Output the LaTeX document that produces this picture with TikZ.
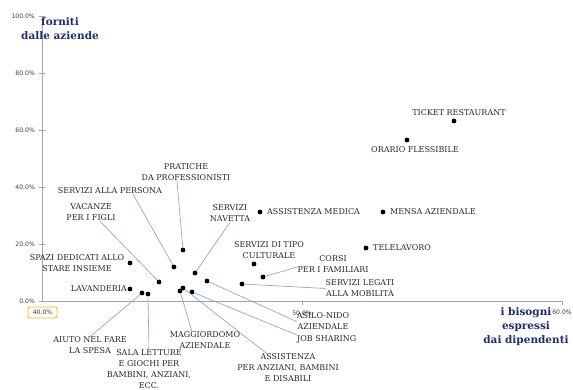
\documentclass[tikz,border=0pt]{standalone}
\usepackage{fontspec}
\newfontfamily\lblfont{DejaVu Serif}
\newfontfamily\tckfont{DejaVu Sans}
\definecolor{navy}{RGB}{31,45,105}
\definecolor{leadblue}{RGB}{125,160,205}
\definecolor{axisgray}{RGB}{165,165,165}
\definecolor{boxgold}{RGB}{245,185,20}

\begin{document}
\begin{tikzpicture}[x=1pt,y=-1pt,
  dot/.style={circle, fill=black, inner sep=0pt, minimum size=4.8pt},
  lbl/.style={font=\lblfont\fontsize{8}{11}\selectfont, text=black!85, align=center, inner sep=0pt},
  ttl/.style={font=\lblfont\bfseries\fontsize{10.5}{14}\selectfont, text=navy, align=center, inner sep=0pt},
  tck/.style={font=\tckfont\fontsize{6.1}{7}\selectfont, text=black!75, inner sep=0pt},
  lead/.style={draw=leadblue, line width=0.6pt}]
\useasboundingbox (0,0) rectangle (573,390);

% axes
\draw[axisgray, line width=0.7pt] (42,16) -- (42,301) -- (563,301);
\foreach \y in {16,73,130,187,244,301} \draw[axisgray, line width=0.6pt] (39,\y) -- (45,\y);
\foreach \x in {302,562} \draw[axisgray, line width=0.6pt] (\x,301) -- (\x,305);

\node (t100) at (35,16) [tck, anchor=east] {100.0\%};
\node (t80) at (35,73) [tck, anchor=east] {80.0\%};
\node (t60) at (35,130) [tck, anchor=east] {60.0\%};
\node (t40) at (35,187) [tck, anchor=east] {40.0\%};
\node (t20) at (35,244) [tck, anchor=east] {20.0\%};
\node (t0) at (35,301) [tck, anchor=east] {0.0\%};
\node (x40) at (42.5,312.5) [tck, draw=boxgold, line width=0.9pt, rounded corners=2pt, minimum width=29pt, minimum height=11pt] {40.0\%};
\node (x50) at (302,313) [tck] {50.0\%};
\node (x60) at (562,312) [tck] {60.0\%};

\node (fornite) at (60,29) [ttl] {forniti\\dalle aziende};
\node (bisogni) at (526,327) [ttl] {i bisogni\\espressi\\dai dipendenti};

% dots
\node (ticket) at (454,121) [dot] {};
\node (orario) at (407,140) [dot] {};
\node (medica) at (260,212) [dot] {};
\node (mensa) at (383,212) [dot] {};
\node (tele) at (366,248) [dot] {};
\node (cult) at (254,264) [dot] {};
\node (corsi) at (263,277) [dot] {};
\node (mob) at (242,284) [dot] {};
\node (prat) at (183,250) [dot] {};
\node (pers) at (174,267) [dot] {};
\node (navetta) at (195,273) [dot] {};
\node (asilo) at (207,281) [dot] {};
\node (vac) at (159,282) [dot] {};
\node (spazi) at (130,263) [dot] {};
\node (lav) at (130,289) [dot] {};
\node (aiuto) at (142,293) [dot] {};
\node (sala) at (148,294) [dot] {};
\node (magg) at (180,291) [dot] {};
\node (assist) at (183,288) [dot] {};
\node (job) at (192,292) [dot] {};

% labels
\node (ticketL) at (459,113) [lbl] {TICKET RESTAURANT};
\node (orarioL) at (415,150) [lbl] {ORARIO FLESSIBILE};
\node (medicaL) at (267,212) [lbl, anchor=west] {ASSISTENZA MEDICA};
\node (mensaL) at (390,212) [lbl, anchor=west] {MENSA AZIENDALE};
\node (teleL) at (373,248) [lbl, anchor=west] {TELELAVORO};
\node (cultL) at (269,250) [lbl] {SERVIZI DI TIPO\\CULTURALE};
\node (corsiL) at (333,264) [lbl] {CORSI\\PER I FAMILIARI};
\node (mobL) at (360,288.5) [lbl] {SERVIZI LEGATI\\ALLA MOBILIT\`A};
\node (pratL) at (186,172.5) [lbl] {PRATICHE\\DA PROFESSIONISTI};
\node (persL) at (110,191) [lbl] {SERVIZI ALLA PERSONA};
\node (navettaL) at (230,213.5) [lbl] {SERVIZI\\NAVETTA};
\node (vacL) at (91,212.5) [lbl] {VACANZE\\PER I FIGLI};
\node (spaziL) at (77,263) [lbl] {SPAZI DEDICATI ALLO\\STARE INSIEME};
\node (lavL) at (127,289) [lbl, anchor=east] {LAVANDERIA};
\node (aiutoL) at (90,345.5) [lbl] {AIUTO NEL FARE\\LA SPESA};
\node (salaL) at (149,369.5) [lbl] {SALA LETTURE\\E GIOCHI PER\\BAMBINI, ANZIANI,\\ECC.};
\node (maggL) at (205,340.5) [lbl] {MAGGIORDOMO\\AZIENDALE};
\node (assistL) at (288,368) [lbl] {ASSISTENZA\\PER ANZIANI, BAMBINI\\E DISABILI};
\node (jobL) at (297,339) [lbl, anchor=west] {JOB SHARING};
\node (asiloL) at (323,321.5) [lbl] {ASILO-NIDO\\AZIENDALE};

% leader lines
\draw[lead] (prat) -- ([xshift=-9pt]pratL.south);
\draw[lead] (pers) -- ([xshift=23pt]persL.south);
\draw[lead] (vac) -- ([xshift=9pt]vacL.south);
\draw[lead] (navetta) -- (navettaL.south);
\draw[lead] (aiuto) -- (aiutoL.north);
\draw[lead] (sala) -- (salaL.north);
\draw[lead] (magg) -- ([xshift=-13pt]maggL.north);
\draw[lead] (assist) -- ([xshift=-21pt]assistL.north);
\draw[lead] (job) -- (jobL.north west);
\draw[lead] (asilo) -- (asiloL.west);
\draw[lead] (corsi) -- ([yshift=-3pt]corsiL.west);
\draw[lead] (mob) -- (mobL.west);

\end{tikzpicture}
\end{document}
